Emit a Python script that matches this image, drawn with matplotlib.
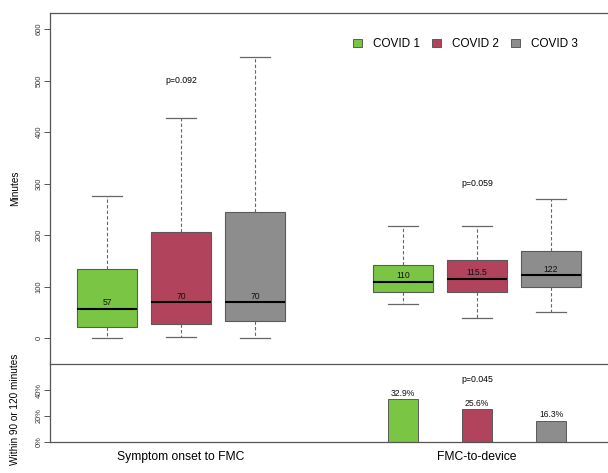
import matplotlib
matplotlib.use("Agg")
import matplotlib.pyplot as plt
from matplotlib.patches import Patch

plt.rcParams["font.family"] = ["Liberation Sans", "DejaVu Sans"]

# ---- data -------------------------------------------------------------
groups = ["Symptom onset to FMC", "FMC-to-device"]
series = ["COVID 1", "COVID 2", "COVID 3"]
colors = ["#7BC544", "#B1435D", "#8D8D8D"]

# Symptom onset to FMC (minutes)
onset_med = [57, 70, 70]
onset_q1 = [22, 27, 33]
onset_q3 = [135, 207, 245]
onset_lo = [0, 2, 0]
onset_hi = [276, 428, 546]

# FMC-to-device (minutes)
device_med = [110, 115.5, 122]
device_q1 = [90, 90, 100]
device_q3 = [142, 152, 169]
device_lo = [66, 39, 52]
device_hi = [218, 217, 270]

# share treated within 90 or 120 minutes (%), FMC-to-device only
device_within = [32.9, 25.6, 16.3]

p_onset = "p=0.092"
p_device = "p=0.059"
p_within = "p=0.045"

# ---- layout -----------------------------------------------------------
positions = [[1, 2, 3], [5, 6, 7]]
group_centres = [2, 6]
W, H = 608, 473
fig = plt.figure(figsize=(W / 100, H / 100), dpi=100)
left = 49.7 / W
right = 1.0
axb = fig.add_axes([left, 1 - 441.5 / H, right - left, (441.5 - 364.3) / H])
ax = fig.add_axes([left, 1 - 364.3 / H, right - left, (364.3 - 13.3) / H])
axb.set_facecolor("none")
ax.set_facecolor("none")

spine_col = "#555555"
box_edge = "#5a5a5a"
tick_fs = 5.4
label_fs = 7.2
label_x = -30 / (W * (right - left))

stats = []
pos_all = []
for med, q1, q3, lo, hi, pos in [
    (onset_med, onset_q1, onset_q3, onset_lo, onset_hi, positions[0]),
    (device_med, device_q1, device_q3, device_lo, device_hi, positions[1]),
]:
    for i in range(3):
        stats.append(dict(med=med[i], q1=q1[i], q3=q3[i], whislo=lo[i],
                          whishi=hi[i], fliers=[]))
        pos_all.append(pos[i])

bp = ax.bxp(stats, positions=pos_all, widths=0.8, capwidths=0.4,
            patch_artist=True, showfliers=False,
            boxprops=dict(edgecolor=box_edge, linewidth=0.8),
            whiskerprops=dict(color="#666666", linewidth=0.8,
                              linestyle=(0, (3, 2))),
            capprops=dict(color="#666666", linewidth=0.9),
            medianprops=dict(color="black", linewidth=1.5))
for k, patch in enumerate(bp["boxes"]):
    patch.set_facecolor(colors[k % 3])

# median labels
for s, p in zip(stats, pos_all):
    lab = f"{s['med']:g}"
    ax.annotate(lab, (p, s["med"]), xytext=(0, 4.4), textcoords="offset points",
                ha="center", va="center", fontsize=6.2, color="#111111")

ax.text(group_centres[0], 501, p_onset, ha="center", va="center", fontsize=6.3)
ax.text(group_centres[1], 300, p_device, ha="center", va="center", fontsize=6.3)

ax.set_xlim(0.226, 7.77)
ax.set_ylim(-50.4, 630.5)
ax.set_yticks(range(0, 601, 100))
ax.set_xticks([])
ax.tick_params(axis="y", labelsize=tick_fs, labelrotation=90, length=4,
               width=0.7, color=spine_col, labelcolor="#333333", pad=1)
for lab in ax.get_yticklabels():
    lab.set_va("center")
ax.set_ylabel("Minutes", fontsize=label_fs)
ax.yaxis.set_label_coords(label_x, 0.5)
for sp in ["top", "left", "bottom"]:
    ax.spines[sp].set_color(spine_col)
    ax.spines[sp].set_linewidth(0.9)
ax.spines["right"].set_visible(False)

# legend
handles = [Patch(facecolor=c, edgecolor=box_edge, linewidth=0.7) for c in colors]
fig.legend(handles, series, loc="center", bbox_to_anchor=(465.5 / W, 1 - 44 / H),
           ncol=3, frameon=False, fontsize=8.5, handlelength=0.76,
           handleheight=0.7, handletextpad=0.93, columnspacing=1.0,
           borderpad=0, borderaxespad=0)

# ---- bottom panel ------------------------------------------------------
axb.bar(positions[1], device_within, width=0.405, color=colors,
        edgecolor=box_edge, linewidth=0.7)
for p, v in zip(positions[1], device_within):
    axb.annotate(f"{v:.1f}%", (p, v), xytext=(0, 0.8), textcoords="offset points",
                 ha="center", va="bottom", fontsize=6.2, color="#111111")
axb.text(group_centres[1], 48.6, p_within, ha="center", va="center", fontsize=6.3)

axb.set_xlim(0.226, 7.77)
axb.set_ylim(0, 60.1)
axb.set_yticks([0, 20, 40])
axb.set_yticklabels(["0%", "20%", "40%"])
axb.tick_params(axis="y", labelsize=tick_fs, labelrotation=90, length=4,
                width=0.7, color=spine_col, labelcolor="#333333", pad=1)
for lab in axb.get_yticklabels():
    lab.set_va("center")
axb.set_xticks(group_centres)
axb.set_xticklabels(groups)
axb.tick_params(axis="x", length=0, labelsize=8.7, pad=7)
axb.set_ylabel("Within 90 or 120 minutes", fontsize=label_fs)
axb.yaxis.set_label_coords(label_x, 0.42)
axb.spines["top"].set_visible(False)
axb.spines["right"].set_visible(False)
for sp in ["left", "bottom"]:
    axb.spines[sp].set_color(spine_col)
    axb.spines[sp].set_linewidth(0.9)

fig.savefig("out.png", dpi=100)
